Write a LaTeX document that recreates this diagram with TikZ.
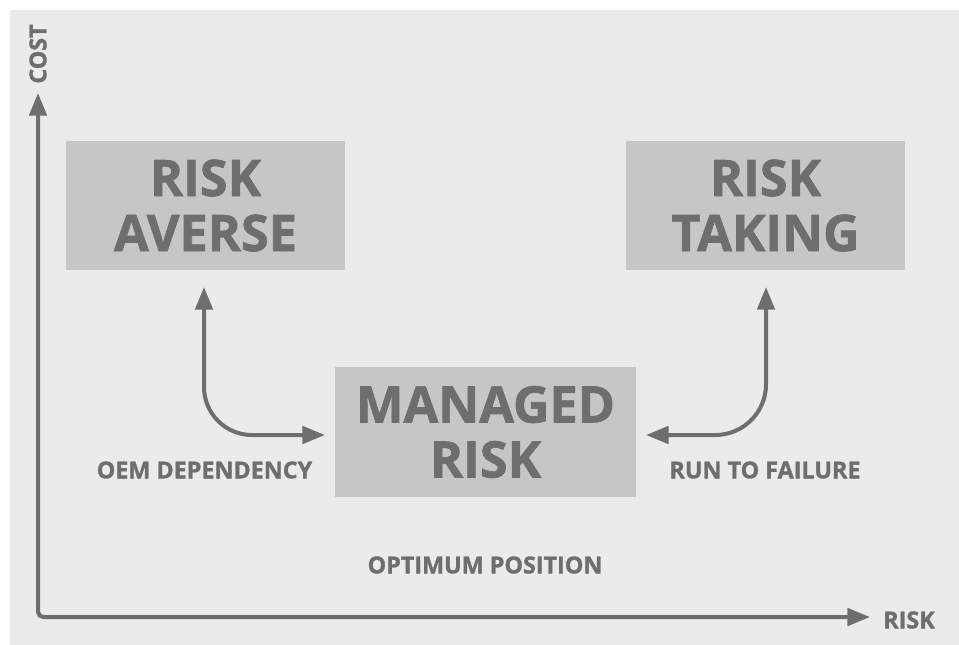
\documentclass[tikz,border=0pt]{standalone}
\usepackage{fontspec}
\setmainfont{Open Sans}[BoldFeatures={FakeBold=1.3}]
\usetikzlibrary{arrows.meta}
\definecolor{bgc}{HTML}{EBEBEB}
\definecolor{boxc}{HTML}{C6C6C6}
\definecolor{ink}{HTML}{6E6E6E}
\begin{document}
\begin{tikzpicture}[x=0.75pt,y=-0.75pt,
  bigbox/.style={fill=boxc, text=ink, font=\fontsize{37.8}{41.25}\selectfont\bfseries,
    align=center, inner sep=0pt, minimum width=209.25pt, minimum height=96.75pt},
  lbl/.style={text=ink, font=\fontsize{17.5}{20}\selectfont\bfseries, inner sep=0pt},
  conn/.style={draw=ink, line width=3pt, {Triangle[length=17pt,width=13pt]}-{Triangle[length=17pt,width=13pt]}},
]
\useasboundingbox (0,0) rectangle (959,644);
\fill[white] (-5,-5) rectangle (970,660);
\fill[bgc] (10,10) rectangle (975,660);

\node[bigbox] (averse) at (205.5,205.5) {RISK\\AVERSE};
\node[bigbox] (taking) at (765.5,205.5) {RISK\\TAKING};
\node[bigbox, minimum width=225.75pt, minimum height=97.5pt] (managed) at (485.5,432) {MANAGED\\RISK};

\coordinate (ytip) at (38,93);
\coordinate (origin) at (38,617);
\coordinate (xtip) at (870,617);
\draw[conn, rounded corners=4pt] (ytip) -- (origin) -- (xtip);

\node[lbl, rotate=90] (cost) at (38,54) {COST};
\node[lbl] (risk) at (909,620) {RISK};

\coordinate (la) at (204,287);
\coordinate (lb) at (325,435);
\coordinate (ra) at (766,287);
\coordinate (rb) at (646,435);
\draw[conn, rounded corners=36pt] (la) |- (lb);
\draw[conn, rounded corners=38pt] (ra) |- (rb);

\node[lbl] (oem) at (204.5,470) {OEM DEPENDENCY};
\node[lbl] (rtf) at (765,470) {RUN TO FAILURE};
\node[lbl] (opt) at (485,565) {OPTIMUM POSITION};
\end{tikzpicture}
\end{document}
